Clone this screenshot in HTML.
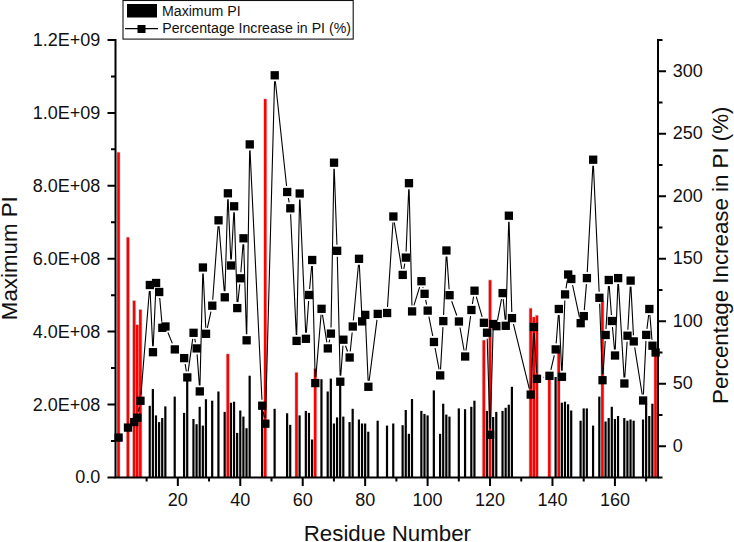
<!DOCTYPE html>
<html><head><meta charset="utf-8"><style>
html,body{margin:0;padding:0;background:#fff;}
body{width:734px;height:542px;overflow:hidden;}
svg{display:block;font-family:"Liberation Sans",sans-serif;}
</style></head><body>
<svg width="734" height="542" viewBox="0 0 734 542">
<rect width="734" height="542" fill="#fff"/>
<rect x="116.42" y="151.6" width="4.2" height="325.8" fill="#d3e2e6"/>
<rect x="125.79" y="236.6" width="4.2" height="240.8" fill="#d3e2e6"/>
<rect x="132.03" y="300.0" width="4.2" height="177.4" fill="#d3e2e6"/>
<rect x="135.15" y="324.0" width="4.2" height="153.4" fill="#d3e2e6"/>
<rect x="138.28" y="308.9" width="4.2" height="168.5" fill="#d3e2e6"/>
<rect x="225.69" y="353.3" width="4.2" height="124.1" fill="#d3e2e6"/>
<rect x="263.16" y="98.3" width="4.2" height="379.1" fill="#d3e2e6"/>
<rect x="294.38" y="371.8" width="4.2" height="105.6" fill="#d3e2e6"/>
<rect x="313.11" y="368.0" width="4.2" height="109.4" fill="#d3e2e6"/>
<rect x="481.70" y="339.5" width="4.2" height="137.9" fill="#d3e2e6"/>
<rect x="487.94" y="279.4" width="4.2" height="198.0" fill="#d3e2e6"/>
<rect x="528.53" y="307.6" width="4.2" height="169.8" fill="#d3e2e6"/>
<rect x="531.65" y="316.3" width="4.2" height="161.1" fill="#d3e2e6"/>
<rect x="534.77" y="314.7" width="4.2" height="162.7" fill="#d3e2e6"/>
<rect x="547.26" y="374.2" width="4.2" height="103.2" fill="#d3e2e6"/>
<rect x="556.62" y="348.6" width="4.2" height="128.8" fill="#d3e2e6"/>
<rect x="600.33" y="300.1" width="4.2" height="177.3" fill="#d3e2e6"/>
<rect x="653.41" y="348.6" width="4.2" height="128.8" fill="#d3e2e6"/>
<rect x="117.22" y="152.4" width="2.6" height="325.0" fill="#ff0000"/>
<rect x="126.59" y="237.4" width="2.6" height="240.0" fill="#ff0000"/>
<rect x="132.83" y="300.8" width="2.6" height="176.6" fill="#ff0000"/>
<rect x="135.95" y="324.8" width="2.6" height="152.6" fill="#ff0000"/>
<rect x="139.08" y="309.7" width="2.6" height="167.7" fill="#ff0000"/>
<rect x="148.64" y="405.8" width="2.2" height="71.6" fill="#000"/>
<rect x="151.76" y="389.0" width="2.2" height="88.4" fill="#000"/>
<rect x="154.89" y="415.4" width="2.2" height="62.0" fill="#000"/>
<rect x="158.01" y="422.1" width="2.2" height="55.3" fill="#000"/>
<rect x="161.13" y="418.0" width="2.2" height="59.4" fill="#000"/>
<rect x="164.25" y="406.4" width="2.2" height="71.0" fill="#000"/>
<rect x="173.62" y="396.6" width="2.2" height="80.8" fill="#000"/>
<rect x="182.98" y="412.9" width="2.2" height="64.5" fill="#000"/>
<rect x="186.11" y="377.4" width="2.2" height="100.0" fill="#000"/>
<rect x="192.35" y="419.0" width="2.2" height="58.4" fill="#000"/>
<rect x="195.47" y="424.2" width="2.2" height="53.2" fill="#000"/>
<rect x="198.59" y="406.8" width="2.2" height="70.6" fill="#000"/>
<rect x="201.72" y="425.6" width="2.2" height="51.8" fill="#000"/>
<rect x="204.84" y="399.2" width="2.2" height="78.2" fill="#000"/>
<rect x="211.08" y="400.7" width="2.2" height="76.7" fill="#000"/>
<rect x="217.33" y="391.5" width="2.2" height="85.9" fill="#000"/>
<rect x="223.57" y="411.9" width="2.2" height="65.5" fill="#000"/>
<rect x="226.49" y="354.1" width="2.6" height="123.3" fill="#ff0000"/>
<rect x="229.81" y="402.7" width="2.2" height="74.7" fill="#000"/>
<rect x="232.94" y="401.7" width="2.2" height="75.7" fill="#000"/>
<rect x="236.06" y="432.9" width="2.2" height="44.5" fill="#000"/>
<rect x="239.18" y="410.5" width="2.2" height="66.9" fill="#000"/>
<rect x="242.30" y="416.6" width="2.2" height="60.8" fill="#000"/>
<rect x="245.42" y="428.2" width="2.2" height="49.2" fill="#000"/>
<rect x="248.55" y="375.7" width="2.2" height="101.7" fill="#000"/>
<rect x="261.03" y="409.0" width="2.2" height="68.4" fill="#000"/>
<rect x="263.96" y="99.1" width="2.6" height="378.3" fill="#ff0000"/>
<rect x="273.52" y="408.8" width="2.2" height="68.6" fill="#000"/>
<rect x="286.01" y="413.3" width="2.2" height="64.1" fill="#000"/>
<rect x="289.13" y="424.8" width="2.2" height="52.6" fill="#000"/>
<rect x="295.18" y="372.6" width="2.6" height="104.8" fill="#ff0000"/>
<rect x="298.50" y="415.4" width="2.2" height="62.0" fill="#000"/>
<rect x="304.74" y="410.9" width="2.2" height="66.5" fill="#000"/>
<rect x="307.86" y="412.9" width="2.2" height="64.5" fill="#000"/>
<rect x="310.99" y="439.5" width="2.2" height="37.9" fill="#000"/>
<rect x="313.91" y="368.8" width="2.6" height="108.6" fill="#ff0000"/>
<rect x="320.35" y="379.2" width="2.2" height="98.2" fill="#000"/>
<rect x="326.60" y="391.5" width="2.2" height="85.9" fill="#000"/>
<rect x="329.72" y="378.6" width="2.2" height="98.8" fill="#000"/>
<rect x="332.84" y="423.5" width="2.2" height="53.9" fill="#000"/>
<rect x="335.96" y="417.4" width="2.2" height="60.0" fill="#000"/>
<rect x="339.08" y="382.0" width="2.2" height="95.4" fill="#000"/>
<rect x="342.21" y="416.6" width="2.2" height="60.8" fill="#000"/>
<rect x="348.45" y="422.1" width="2.2" height="55.3" fill="#000"/>
<rect x="351.57" y="408.8" width="2.2" height="68.6" fill="#000"/>
<rect x="357.82" y="419.5" width="2.2" height="57.9" fill="#000"/>
<rect x="360.94" y="423.5" width="2.2" height="53.9" fill="#000"/>
<rect x="364.06" y="423.5" width="2.2" height="53.9" fill="#000"/>
<rect x="367.18" y="431.7" width="2.2" height="45.7" fill="#000"/>
<rect x="376.55" y="420.7" width="2.2" height="56.7" fill="#000"/>
<rect x="385.91" y="425.6" width="2.2" height="51.8" fill="#000"/>
<rect x="392.16" y="423.5" width="2.2" height="53.9" fill="#000"/>
<rect x="401.52" y="425.2" width="2.2" height="52.2" fill="#000"/>
<rect x="404.65" y="410.0" width="2.2" height="67.4" fill="#000"/>
<rect x="407.77" y="433.8" width="2.2" height="43.6" fill="#000"/>
<rect x="410.89" y="399.0" width="2.2" height="78.4" fill="#000"/>
<rect x="420.26" y="410.9" width="2.2" height="66.5" fill="#000"/>
<rect x="423.38" y="413.9" width="2.2" height="63.5" fill="#000"/>
<rect x="426.50" y="415.4" width="2.2" height="62.0" fill="#000"/>
<rect x="432.74" y="390.4" width="2.2" height="87.0" fill="#000"/>
<rect x="438.99" y="433.8" width="2.2" height="43.6" fill="#000"/>
<rect x="442.11" y="403.7" width="2.2" height="73.7" fill="#000"/>
<rect x="445.23" y="414.6" width="2.2" height="62.8" fill="#000"/>
<rect x="448.35" y="416.6" width="2.2" height="60.8" fill="#000"/>
<rect x="457.72" y="408.4" width="2.2" height="69.0" fill="#000"/>
<rect x="463.96" y="409.2" width="2.2" height="68.2" fill="#000"/>
<rect x="470.21" y="406.8" width="2.2" height="70.6" fill="#000"/>
<rect x="473.33" y="400.7" width="2.2" height="76.7" fill="#000"/>
<rect x="482.50" y="340.3" width="2.6" height="137.1" fill="#ff0000"/>
<rect x="485.82" y="410.9" width="2.2" height="66.5" fill="#000"/>
<rect x="488.74" y="280.2" width="2.6" height="197.2" fill="#ff0000"/>
<rect x="492.06" y="417.0" width="2.2" height="60.4" fill="#000"/>
<rect x="495.18" y="411.9" width="2.2" height="65.5" fill="#000"/>
<rect x="501.43" y="410.9" width="2.2" height="66.5" fill="#000"/>
<rect x="504.55" y="407.8" width="2.2" height="69.6" fill="#000"/>
<rect x="507.67" y="404.7" width="2.2" height="72.7" fill="#000"/>
<rect x="510.79" y="386.8" width="2.2" height="90.6" fill="#000"/>
<rect x="529.33" y="308.4" width="2.6" height="169.0" fill="#ff0000"/>
<rect x="532.45" y="317.1" width="2.6" height="160.3" fill="#ff0000"/>
<rect x="535.57" y="315.5" width="2.6" height="161.9" fill="#ff0000"/>
<rect x="548.06" y="375.0" width="2.6" height="102.4" fill="#ff0000"/>
<rect x="554.50" y="377.0" width="2.2" height="100.4" fill="#000"/>
<rect x="557.42" y="349.4" width="2.6" height="128.0" fill="#ff0000"/>
<rect x="560.75" y="402.7" width="2.2" height="74.7" fill="#000"/>
<rect x="563.87" y="401.7" width="2.2" height="75.7" fill="#000"/>
<rect x="566.99" y="404.3" width="2.2" height="73.1" fill="#000"/>
<rect x="570.11" y="410.5" width="2.2" height="66.9" fill="#000"/>
<rect x="579.48" y="420.7" width="2.2" height="56.7" fill="#000"/>
<rect x="582.60" y="408.4" width="2.2" height="69.0" fill="#000"/>
<rect x="585.72" y="408.4" width="2.2" height="69.0" fill="#000"/>
<rect x="591.97" y="425.6" width="2.2" height="51.8" fill="#000"/>
<rect x="598.21" y="396.6" width="2.2" height="80.8" fill="#000"/>
<rect x="601.13" y="300.9" width="2.6" height="176.5" fill="#ff0000"/>
<rect x="604.45" y="421.5" width="2.2" height="55.9" fill="#000"/>
<rect x="607.58" y="418.0" width="2.2" height="59.4" fill="#000"/>
<rect x="610.70" y="406.8" width="2.2" height="70.6" fill="#000"/>
<rect x="613.82" y="419.0" width="2.2" height="58.4" fill="#000"/>
<rect x="616.94" y="416.0" width="2.2" height="61.4" fill="#000"/>
<rect x="623.19" y="418.0" width="2.2" height="59.4" fill="#000"/>
<rect x="626.31" y="420.7" width="2.2" height="56.7" fill="#000"/>
<rect x="629.43" y="419.5" width="2.2" height="57.9" fill="#000"/>
<rect x="632.55" y="420.7" width="2.2" height="56.7" fill="#000"/>
<rect x="641.92" y="419.5" width="2.2" height="57.9" fill="#000"/>
<rect x="645.04" y="403.7" width="2.2" height="73.7" fill="#000"/>
<rect x="648.16" y="416.0" width="2.2" height="61.4" fill="#000"/>
<rect x="651.28" y="403.7" width="2.2" height="73.7" fill="#000"/>
<rect x="654.21" y="349.4" width="2.6" height="128.0" fill="#ff0000"/>
<path d="M138.46 411.70L139.37 406.80M140.96 394.80L149.36 291.00M150.12 291.00L152.69 346.20M153.23 346.20L155.82 289.00M159.73 298.00L161.81 321.80M167.91 332.50L172.36 343.40M185.15 364.10L186.34 371.40M188.15 371.40L192.71 338.80M194.75 338.80L195.47 342.40M197.11 354.40L199.36 385.40M199.95 385.40L202.76 273.50M203.20 273.50L205.76 327.80M207.37 327.80L210.95 311.70M212.72 299.70L218.09 226.30M219.01 226.30L224.28 291.30M224.95 291.30L227.71 199.30M228.15 199.30L230.75 259.50M231.33 259.50L233.82 212.30M234.32 212.30L237.07 302.10M237.89 302.10L239.75 284.30M240.85 272.30L243.03 244.30M243.69 244.30L246.44 334.30M246.72 334.30L249.65 150.40M250.03 150.40L261.95 399.70M263.27 411.70L264.32 417.70M265.52 417.70L274.56 81.30M275.36 81.30L286.57 186.00M288.36 198.00L289.18 202.30M290.61 214.30L296.29 334.90M296.70 334.90L299.57 199.50M299.96 199.50L305.68 332.80M306.37 332.80L308.64 301.00M309.60 289.00L311.65 266.00M312.34 266.00L315.16 377.10M315.81 377.10L321.05 314.80M322.50 314.80L326.85 342.40M329.06 342.40L329.65 339.60M331.03 327.60L333.93 168.70M334.25 168.70L336.95 244.80M337.31 256.80L340.14 375.70M340.73 375.70L342.96 345.70M345.51 345.70L347.55 351.50M350.25 351.50L352.17 332.50M353.33 320.50L358.46 264.80M359.32 264.80L361.84 315.40M365.52 320.90L368.12 380.80M369.15 380.80L376.98 319.90M387.50 307.00L392.97 222.50M394.32 222.50L401.76 268.90M403.81 268.90L404.76 263.60M406.10 251.60L408.72 189.20M409.11 189.20L411.94 305.40M413.95 305.40L419.60 287.20M422.94 287.20L423.09 287.80M425.69 299.80L426.59 304.60M428.89 316.60L432.75 336.00M435.07 348.00L439.07 369.40M440.53 369.40L442.97 327.10M443.58 315.10L446.17 256.50M446.85 256.50L449.13 289.20M451.69 301.20L456.78 315.50M459.99 327.50L464.09 350.50M465.97 350.50L470.60 316.00M472.38 304.00L473.56 296.70M476.28 296.70L482.15 316.80M487.20 338.70L489.96 428.80M490.31 428.80L493.09 330.00M497.52 320.20L501.50 299.10M503.20 299.10L505.18 319.80M505.92 319.80L508.70 221.70M509.05 221.70L511.81 312.10M513.46 324.10L529.26 388.60M531.00 388.60L533.57 333.00M534.21 333.00L536.61 372.80M542.97 377.36L543.46 377.24M550.88 369.80L554.28 355.40M556.17 343.40L558.36 315.00M559.10 315.00L561.67 370.80M562.17 370.80L564.84 300.40M566.01 288.40L567.25 280.50M572.58 285.00L579.41 317.20M584.29 310.10L586.43 284.10M587.24 272.10L592.85 165.70M593.44 165.70L599.14 291.80M599.64 303.80L602.30 374.20M602.95 374.20L605.24 341.00M605.99 329.00L608.44 286.00M609.23 286.00L611.44 315.00M612.44 327.00L614.48 349.50M615.26 349.50L617.90 284.10M618.50 284.10L624.03 377.50M624.78 377.50L627.12 341.70M627.85 329.70L630.29 286.60M630.94 286.60L633.44 335.40M634.70 347.40L642.17 394.50M643.40 394.50L645.95 340.90M646.96 328.90L648.64 315.00M649.87 315.00L651.97 339.70" stroke="#000" stroke-width="1.1" fill="none"/>
<rect x="114.47" y="433.45" width="8.3" height="8.3" fill="#000"/>
<rect x="123.84" y="423.45" width="8.3" height="8.3" fill="#000"/>
<rect x="130.08" y="417.95" width="8.3" height="8.3" fill="#000"/>
<rect x="133.20" y="413.55" width="8.3" height="8.3" fill="#000"/>
<rect x="136.33" y="396.65" width="8.3" height="8.3" fill="#000"/>
<rect x="145.69" y="280.85" width="8.3" height="8.3" fill="#000"/>
<rect x="148.81" y="348.05" width="8.3" height="8.3" fill="#000"/>
<rect x="151.94" y="278.85" width="8.3" height="8.3" fill="#000"/>
<rect x="155.06" y="287.85" width="8.3" height="8.3" fill="#000"/>
<rect x="158.18" y="323.65" width="8.3" height="8.3" fill="#000"/>
<rect x="161.30" y="322.35" width="8.3" height="8.3" fill="#000"/>
<rect x="170.67" y="345.25" width="8.3" height="8.3" fill="#000"/>
<rect x="180.03" y="353.95" width="8.3" height="8.3" fill="#000"/>
<rect x="183.16" y="373.25" width="8.3" height="8.3" fill="#000"/>
<rect x="189.40" y="328.65" width="8.3" height="8.3" fill="#000"/>
<rect x="192.52" y="344.25" width="8.3" height="8.3" fill="#000"/>
<rect x="195.64" y="387.25" width="8.3" height="8.3" fill="#000"/>
<rect x="198.77" y="263.35" width="8.3" height="8.3" fill="#000"/>
<rect x="201.89" y="329.65" width="8.3" height="8.3" fill="#000"/>
<rect x="208.13" y="301.55" width="8.3" height="8.3" fill="#000"/>
<rect x="214.38" y="216.15" width="8.3" height="8.3" fill="#000"/>
<rect x="220.62" y="293.15" width="8.3" height="8.3" fill="#000"/>
<rect x="223.74" y="189.15" width="8.3" height="8.3" fill="#000"/>
<rect x="226.86" y="261.35" width="8.3" height="8.3" fill="#000"/>
<rect x="229.99" y="202.15" width="8.3" height="8.3" fill="#000"/>
<rect x="233.11" y="303.95" width="8.3" height="8.3" fill="#000"/>
<rect x="236.23" y="274.15" width="8.3" height="8.3" fill="#000"/>
<rect x="239.35" y="234.15" width="8.3" height="8.3" fill="#000"/>
<rect x="242.47" y="336.15" width="8.3" height="8.3" fill="#000"/>
<rect x="245.60" y="140.25" width="8.3" height="8.3" fill="#000"/>
<rect x="258.08" y="401.55" width="8.3" height="8.3" fill="#000"/>
<rect x="261.21" y="419.55" width="8.3" height="8.3" fill="#000"/>
<rect x="270.57" y="71.15" width="8.3" height="8.3" fill="#000"/>
<rect x="283.06" y="187.85" width="8.3" height="8.3" fill="#000"/>
<rect x="286.18" y="204.15" width="8.3" height="8.3" fill="#000"/>
<rect x="292.43" y="336.75" width="8.3" height="8.3" fill="#000"/>
<rect x="295.55" y="189.35" width="8.3" height="8.3" fill="#000"/>
<rect x="301.79" y="334.65" width="8.3" height="8.3" fill="#000"/>
<rect x="304.91" y="290.85" width="8.3" height="8.3" fill="#000"/>
<rect x="308.04" y="255.85" width="8.3" height="8.3" fill="#000"/>
<rect x="311.16" y="378.95" width="8.3" height="8.3" fill="#000"/>
<rect x="317.40" y="304.65" width="8.3" height="8.3" fill="#000"/>
<rect x="323.65" y="344.25" width="8.3" height="8.3" fill="#000"/>
<rect x="326.77" y="329.45" width="8.3" height="8.3" fill="#000"/>
<rect x="329.89" y="158.55" width="8.3" height="8.3" fill="#000"/>
<rect x="333.01" y="246.65" width="8.3" height="8.3" fill="#000"/>
<rect x="336.13" y="377.55" width="8.3" height="8.3" fill="#000"/>
<rect x="339.26" y="335.55" width="8.3" height="8.3" fill="#000"/>
<rect x="345.50" y="353.35" width="8.3" height="8.3" fill="#000"/>
<rect x="348.62" y="322.35" width="8.3" height="8.3" fill="#000"/>
<rect x="354.87" y="254.65" width="8.3" height="8.3" fill="#000"/>
<rect x="357.99" y="317.25" width="8.3" height="8.3" fill="#000"/>
<rect x="361.11" y="310.75" width="8.3" height="8.3" fill="#000"/>
<rect x="364.23" y="382.65" width="8.3" height="8.3" fill="#000"/>
<rect x="373.60" y="309.75" width="8.3" height="8.3" fill="#000"/>
<rect x="382.96" y="308.85" width="8.3" height="8.3" fill="#000"/>
<rect x="389.21" y="212.35" width="8.3" height="8.3" fill="#000"/>
<rect x="398.57" y="270.75" width="8.3" height="8.3" fill="#000"/>
<rect x="401.70" y="253.45" width="8.3" height="8.3" fill="#000"/>
<rect x="404.82" y="179.05" width="8.3" height="8.3" fill="#000"/>
<rect x="407.94" y="307.25" width="8.3" height="8.3" fill="#000"/>
<rect x="417.31" y="277.05" width="8.3" height="8.3" fill="#000"/>
<rect x="420.43" y="289.65" width="8.3" height="8.3" fill="#000"/>
<rect x="423.55" y="306.45" width="8.3" height="8.3" fill="#000"/>
<rect x="429.79" y="337.85" width="8.3" height="8.3" fill="#000"/>
<rect x="436.04" y="371.25" width="8.3" height="8.3" fill="#000"/>
<rect x="439.16" y="316.95" width="8.3" height="8.3" fill="#000"/>
<rect x="442.28" y="246.35" width="8.3" height="8.3" fill="#000"/>
<rect x="445.40" y="291.05" width="8.3" height="8.3" fill="#000"/>
<rect x="454.77" y="317.35" width="8.3" height="8.3" fill="#000"/>
<rect x="461.01" y="352.35" width="8.3" height="8.3" fill="#000"/>
<rect x="467.26" y="305.85" width="8.3" height="8.3" fill="#000"/>
<rect x="470.38" y="286.55" width="8.3" height="8.3" fill="#000"/>
<rect x="479.75" y="318.65" width="8.3" height="8.3" fill="#000"/>
<rect x="482.87" y="328.55" width="8.3" height="8.3" fill="#000"/>
<rect x="485.99" y="430.65" width="8.3" height="8.3" fill="#000"/>
<rect x="489.11" y="319.85" width="8.3" height="8.3" fill="#000"/>
<rect x="492.23" y="322.05" width="8.3" height="8.3" fill="#000"/>
<rect x="498.48" y="288.95" width="8.3" height="8.3" fill="#000"/>
<rect x="501.60" y="321.65" width="8.3" height="8.3" fill="#000"/>
<rect x="504.72" y="211.55" width="8.3" height="8.3" fill="#000"/>
<rect x="507.84" y="313.95" width="8.3" height="8.3" fill="#000"/>
<rect x="526.58" y="390.45" width="8.3" height="8.3" fill="#000"/>
<rect x="529.70" y="322.85" width="8.3" height="8.3" fill="#000"/>
<rect x="532.82" y="374.65" width="8.3" height="8.3" fill="#000"/>
<rect x="545.31" y="371.65" width="8.3" height="8.3" fill="#000"/>
<rect x="551.55" y="345.25" width="8.3" height="8.3" fill="#000"/>
<rect x="554.67" y="304.85" width="8.3" height="8.3" fill="#000"/>
<rect x="557.80" y="372.65" width="8.3" height="8.3" fill="#000"/>
<rect x="560.92" y="290.25" width="8.3" height="8.3" fill="#000"/>
<rect x="564.04" y="270.35" width="8.3" height="8.3" fill="#000"/>
<rect x="567.16" y="274.85" width="8.3" height="8.3" fill="#000"/>
<rect x="576.53" y="319.05" width="8.3" height="8.3" fill="#000"/>
<rect x="579.65" y="311.95" width="8.3" height="8.3" fill="#000"/>
<rect x="582.77" y="273.95" width="8.3" height="8.3" fill="#000"/>
<rect x="589.02" y="155.55" width="8.3" height="8.3" fill="#000"/>
<rect x="595.26" y="293.65" width="8.3" height="8.3" fill="#000"/>
<rect x="598.38" y="376.05" width="8.3" height="8.3" fill="#000"/>
<rect x="601.50" y="330.85" width="8.3" height="8.3" fill="#000"/>
<rect x="604.63" y="275.85" width="8.3" height="8.3" fill="#000"/>
<rect x="607.75" y="316.85" width="8.3" height="8.3" fill="#000"/>
<rect x="610.87" y="351.35" width="8.3" height="8.3" fill="#000"/>
<rect x="613.99" y="273.95" width="8.3" height="8.3" fill="#000"/>
<rect x="620.24" y="379.35" width="8.3" height="8.3" fill="#000"/>
<rect x="623.36" y="331.55" width="8.3" height="8.3" fill="#000"/>
<rect x="626.48" y="276.45" width="8.3" height="8.3" fill="#000"/>
<rect x="629.60" y="337.25" width="8.3" height="8.3" fill="#000"/>
<rect x="638.97" y="396.35" width="8.3" height="8.3" fill="#000"/>
<rect x="642.09" y="330.75" width="8.3" height="8.3" fill="#000"/>
<rect x="645.21" y="304.85" width="8.3" height="8.3" fill="#000"/>
<rect x="648.33" y="341.55" width="8.3" height="8.3" fill="#000"/>
<rect x="651.46" y="348.35" width="8.3" height="8.3" fill="#000"/>
<path d="M115.5 39V478.4M114.5 477.4H659M658 39V478.4" stroke="#000" stroke-width="2" fill="none"/><path d="M107.5 477.40H115.5M111 440.95H115.5M107.5 404.50H115.5M111 368.05H115.5M107.5 331.60H115.5M111 295.15H115.5M107.5 258.70H115.5M111 222.25H115.5M107.5 185.80H115.5M111 149.35H115.5M107.5 112.90H115.5M111 76.45H115.5M107.5 40.00H115.5M146.62 477.4V481.5M177.84 477.4V486M209.06 477.4V481.5M240.28 477.4V486M271.50 477.4V481.5M302.72 477.4V486M333.94 477.4V481.5M365.16 477.4V486M396.38 477.4V481.5M427.60 477.4V486M458.82 477.4V481.5M490.04 477.4V486M521.26 477.4V481.5M552.48 477.4V486M583.70 477.4V481.5M614.92 477.4V486M646.14 477.4V481.5M658 477.55H662.5M658 446.30H666M658 415.05H662.5M658 383.80H666M658 352.55H662.5M658 321.30H666M658 290.05H662.5M658 258.80H666M658 227.55H662.5M658 196.30H666M658 165.05H662.5M658 133.80H666M658 102.55H662.5M658 71.30H666M658 40.05H662.5" stroke="#000" stroke-width="2" fill="none"/>
<g font-size="18" fill="#111">
<text x="100.2" y="483.4" text-anchor="end">0.0</text>
<text x="100.2" y="410.5" text-anchor="end">2.0E+08</text>
<text x="100.2" y="337.6" text-anchor="end">4.0E+08</text>
<text x="100.2" y="264.7" text-anchor="end">6.0E+08</text>
<text x="100.2" y="191.8" text-anchor="end">8.0E+08</text>
<text x="100.2" y="118.9" text-anchor="end">1.0E+09</text>
<text x="100.2" y="46.0" text-anchor="end">1.2E+09</text>
<text x="177.8" y="506" text-anchor="middle">20</text>
<text x="240.3" y="506" text-anchor="middle">40</text>
<text x="302.7" y="506" text-anchor="middle">60</text>
<text x="365.2" y="506" text-anchor="middle">80</text>
<text x="427.6" y="506" text-anchor="middle">100</text>
<text x="490.0" y="506" text-anchor="middle">120</text>
<text x="552.5" y="506" text-anchor="middle">140</text>
<text x="614.9" y="506" text-anchor="middle">160</text>
<text x="672.8" y="451.9">0</text>
<text x="672.8" y="389.4">50</text>
<text x="672.8" y="326.9">100</text>
<text x="672.8" y="264.4">150</text>
<text x="672.8" y="201.9">200</text>
<text x="672.8" y="139.4">250</text>
<text x="672.8" y="76.9">300</text>
</g>
<g font-size="22.3" fill="#111">
<text x="387.4" y="540.6" text-anchor="middle">Residue Number</text>
<text transform="translate(17,258.2) rotate(-90)" text-anchor="middle">Maximum PI</text>
<text transform="translate(727.7,255.2) rotate(-90)" text-anchor="middle">Percentage Increase in PI (%)</text>
</g>
<rect x="123" y="0.5" width="230.2" height="38.6" fill="#fff" stroke="#111" stroke-width="1.1"/>
<rect x="127" y="4" width="30" height="13.5" fill="#000"/>
<path d="M125 28.6H158" stroke="#000" stroke-width="1.3"/>
<rect x="137.5" y="25" width="8" height="8" fill="#000"/>
<g font-size="14.15" fill="#111">
<text x="162" y="16.4">Maximum PI</text>
<text x="162.3" y="32.8">Percentage Increase in PI (%)</text>
</g>
</svg>
</body></html>
